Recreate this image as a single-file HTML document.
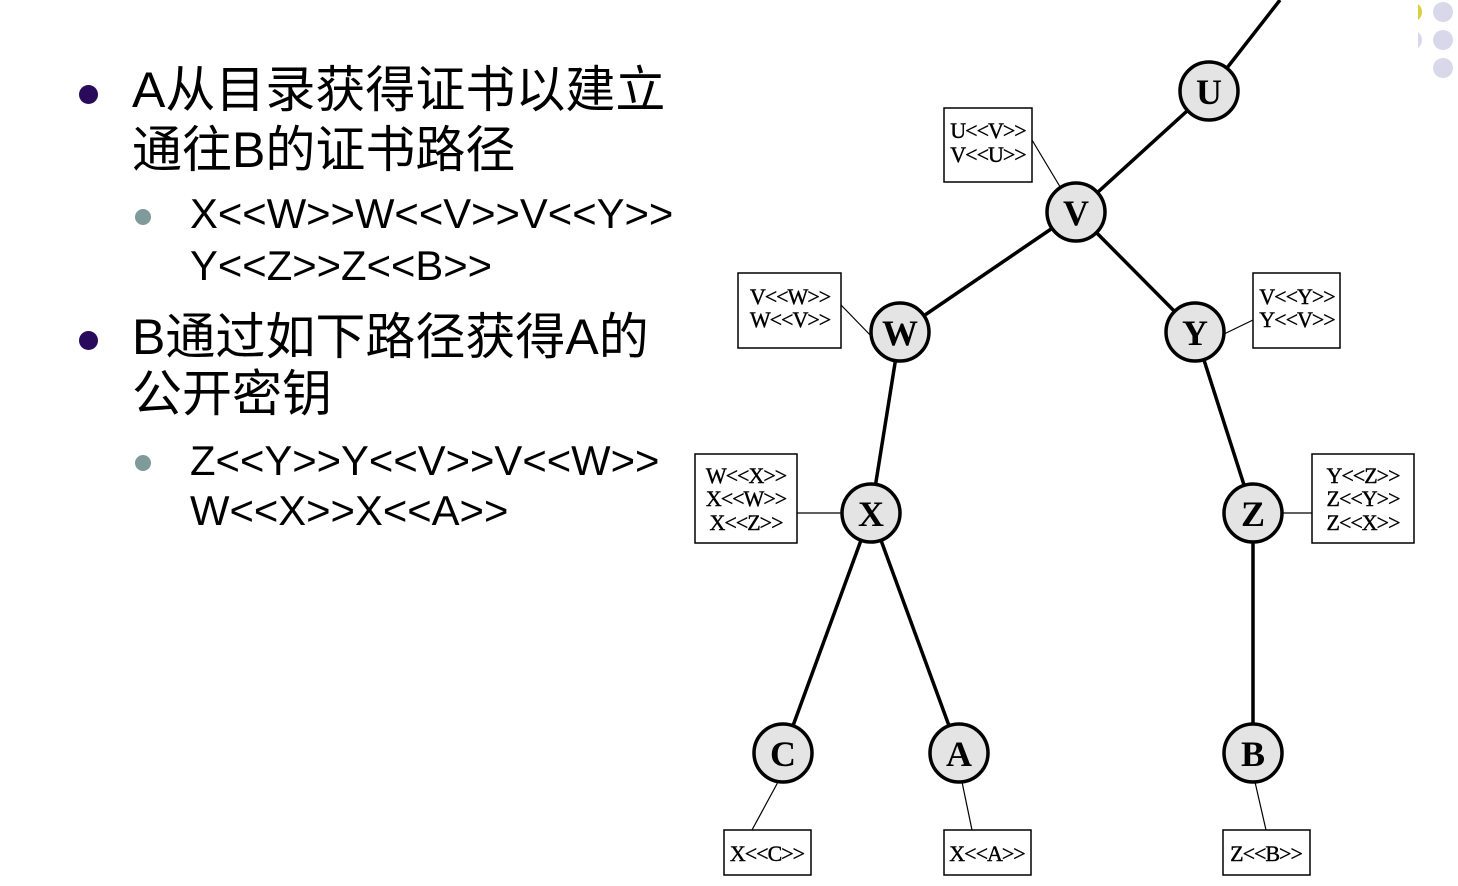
<!DOCTYPE html>
<html><head><meta charset="utf-8"><style>
body{margin:0;width:1458px;height:886px;background:#fff;overflow:hidden;position:relative;font-family:"Liberation Sans","Noto Sans CJK SC",sans-serif}
.t{position:absolute;white-space:nowrap;color:#000;line-height:1}
.l1{font-size:50px;left:132px}
.l2{font-size:41.8px;left:190px}
.b1{position:absolute;left:79px;width:19px;height:19px;border-radius:50%;background:#2a0a5a}
.b2{position:absolute;left:135px;width:16px;height:16px;border-radius:50%;background:#7f9a9a}
</style></head><body>
<div class="b1" style="top:85px"></div>
<div class="t l1" style="top:65px">A从目录获得证书以建立</div>
<div class="t l1" style="top:125px">通往B的证书路径</div>
<div class="b2" style="top:209px"></div>
<div class="t l2" style="top:193px">X&lt;&lt;W&gt;&gt;W&lt;&lt;V&gt;&gt;V&lt;&lt;Y&gt;&gt;</div>
<div class="t l2" style="top:245px">Y&lt;&lt;Z&gt;&gt;Z&lt;&lt;B&gt;&gt;</div>
<div class="b1" style="top:331px"></div>
<div class="t l1" style="top:312px">B通过如下路径获得A的</div>
<div class="t l1" style="top:369px">公开密钥</div>
<div class="b2" style="top:455px"></div>
<div class="t l2" style="top:440px">Z&lt;&lt;Y&gt;&gt;Y&lt;&lt;V&gt;&gt;V&lt;&lt;W&gt;&gt;</div>
<div class="t l2" style="top:490px">W&lt;&lt;X&gt;&gt;X&lt;&lt;A&gt;&gt;</div>
<svg width="1458" height="886" style="position:absolute;left:0;top:0" font-family="Liberation Serif,serif">
<circle cx="1412" cy="12" r="10" fill="#d8d040"/>
<circle cx="1412" cy="40" r="10" fill="#d8d8ea"/><rect x="1400" y="0" width="18" height="60" fill="#fff"/>
<circle cx="1443" cy="12" r="10" fill="#d8d8ea"/><circle cx="1443" cy="40" r="10" fill="#d8d8ea"/><circle cx="1443" cy="68" r="10" fill="#d8d8ea"/>
<g stroke="#000" stroke-width="3.5" fill="none">
<line x1="1280" y1="0" x2="1209" y2="91"/><line x1="1209" y1="91" x2="1076" y2="212"/>
<line x1="1076" y1="212" x2="900" y2="332"/><line x1="1076" y1="212" x2="1195" y2="332"/>
<line x1="900" y1="332" x2="871" y2="513"/><line x1="1195" y1="332" x2="1253" y2="513"/>
<line x1="871" y1="513" x2="783" y2="753"/><line x1="871" y1="513" x2="959" y2="753"/>
<line x1="1253" y1="513" x2="1253" y2="753"/>
</g>
<g stroke="#000" stroke-width="1.2" fill="none">
<line x1="1032" y1="140" x2="1062" y2="190"/><line x1="841" y1="305" x2="875" y2="340"/>
<line x1="1253" y1="320" x2="1222" y2="335"/><line x1="797" y1="513" x2="842" y2="513"/>
<line x1="1282" y1="513" x2="1312" y2="513"/><line x1="752" y1="830" x2="778" y2="782"/>
<line x1="972" y1="830" x2="962" y2="782"/><line x1="1266" y1="830" x2="1255" y2="782"/>
</g>
<g fill="#fff" stroke="#000" stroke-width="1.5">
<rect x="944" y="108" width="88" height="74"/><rect x="738" y="273" width="103" height="75"/>
<rect x="1253" y="273" width="87" height="75"/><rect x="695" y="454" width="102" height="89"/>
<rect x="1312" y="454" width="102" height="89"/><rect x="724" y="830" width="87" height="45"/>
<rect x="944" y="830" width="87" height="45"/><rect x="1223" y="830" width="87" height="45"/>
</g>
<g font-size="22" text-anchor="middle" letter-spacing="-1" stroke="#000" stroke-width="0.4">
<text x="988" y="138">U&lt;&lt;V&gt;&gt;</text><text x="988" y="162">V&lt;&lt;U&gt;&gt;</text>
<text x="790" y="304">V&lt;&lt;W&gt;&gt;</text><text x="790" y="327">W&lt;&lt;V&gt;&gt;</text>
<text x="1297" y="304">V&lt;&lt;Y&gt;&gt;</text><text x="1297" y="327">Y&lt;&lt;V&gt;&gt;</text>
<text x="746" y="483">W&lt;&lt;X&gt;&gt;</text><text x="746" y="506">X&lt;&lt;W&gt;&gt;</text><text x="746" y="530">X&lt;&lt;Z&gt;&gt;</text>
<text x="1363" y="483">Y&lt;&lt;Z&gt;&gt;</text><text x="1363" y="506">Z&lt;&lt;Y&gt;&gt;</text><text x="1363" y="530">Z&lt;&lt;X&gt;&gt;</text>
<text x="767" y="861">X&lt;&lt;C&gt;&gt;</text><text x="987" y="861">X&lt;&lt;A&gt;&gt;</text><text x="1266" y="861">Z&lt;&lt;B&gt;&gt;</text>
</g>
<g fill="#e4e4e4" stroke="#000" stroke-width="3.5">
<circle cx="1209" cy="91" r="29"/><circle cx="1076" cy="212" r="29"/><circle cx="900" cy="332" r="29"/>
<circle cx="1195" cy="332" r="29"/><circle cx="871" cy="513" r="29"/><circle cx="1253" cy="513" r="29"/>
<circle cx="783" cy="753" r="29"/><circle cx="959" cy="753" r="29"/><circle cx="1253" cy="753" r="29"/>
</g>
<g font-size="36" font-weight="bold" text-anchor="middle">
<text x="1209" y="104">U</text><text x="1076" y="225">V</text><text x="900" y="345">W</text>
<text x="1195" y="345">Y</text><text x="871" y="526">X</text><text x="1253" y="526">Z</text>
<text x="783" y="766">C</text><text x="959" y="766">A</text><text x="1253" y="766">B</text>
</g>
</svg>
</body></html>
